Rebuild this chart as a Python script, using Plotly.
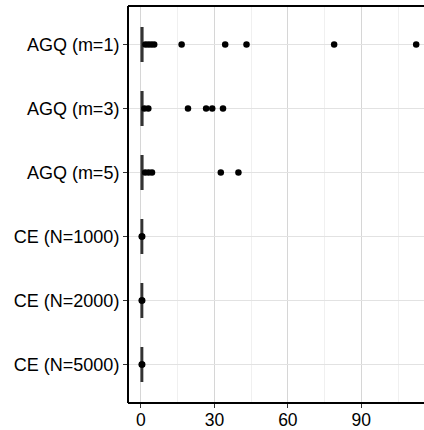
import plotly.graph_objects as go

categories = ["AGQ (m=1)", "AGQ (m=3)", "AGQ (m=5)", "CE (N=1000)", "CE (N=2000)", "CE (N=5000)"]
q1 = [0.05, 0.05, 0.05, 0.05, 0.05, 0.05]
median = [0.3, 0.3, 0.3, 0.3, 0.3, 0.3]
q3 = [0.8, 0.8, 0.8, 0.7, 0.7, 0.7]
lowerfence = [0.0, 0.0, 0.0, 0.0, 0.0, 0.0]
upperfence = [1.2, 1.0, 1.2, 0.8, 0.8, 0.8]

outlier_cat = (["AGQ (m=1)"] * 9 + ["AGQ (m=3)"] * 6 + ["AGQ (m=5)"] * 5
               + ["CE (N=1000)"] * 2 + ["CE (N=2000)"] * 2 + ["CE (N=5000)"] * 2)
outlier_val = ([1.8, 3.0, 4.2, 5.4, 16.6, 34.4, 43.1, 78.9, 112.4]
               + [1.4, 3.0, 19.2, 26.6, 29.1, 33.5]
               + [1.7, 3.1, 4.5, 32.6, 39.8]
               + [0.3, 0.5] + [0.3, 0.5] + [0.3, 0.5])

x_ticks = [0, 30, 60, 90]

fig = go.Figure()
fig.add_trace(go.Box(
    y=categories, q1=q1, median=median, q3=q3,
    lowerfence=lowerfence, upperfence=upperfence,
    orientation="h", boxpoints=False,
    fillcolor="white", line=dict(color="#333333", width=1.3),
    whiskerwidth=0, showlegend=False,
))
fig.add_trace(go.Scatter(
    x=outlier_val, y=outlier_cat, mode="markers",
    marker=dict(color="black", size=6.5), showlegend=False,
))

x0, x1 = -5.3, 115.6
fig.update_layout(
    width=424, height=430,
    margin=dict(l=128, r=0, t=6, b=27),
    plot_bgcolor="white", paper_bgcolor="white",
    boxgap=0.25,
    font=dict(family="Liberation Sans, Arial, sans-serif", size=18, color="black"),
    xaxis=dict(
        range=[x0, x1], tickvals=x_ticks, ticktext=[str(v) for v in x_ticks],
        showgrid=True, gridcolor="#d6d6d6", gridwidth=1,
        minor=dict(tickvals=[15, 45, 75, 105], showgrid=True, gridcolor="#f0f0f0", gridwidth=1),
        zeroline=False, showline=False, automargin=False,
        ticks="outside", ticklen=4, tickcolor="#333333", tickwidth=1,
        ticklabelstandoff=-3,
        tickfont=dict(size=17.5, color="black"),
    ),
    yaxis=dict(
        categoryorder="array", categoryarray=categories,
        range=[5.6, -0.6], automargin=False,
        showgrid=True, gridcolor="#e2e2e2", gridwidth=1,
        zeroline=False, showline=False,
        ticks="outside", ticklen=4, tickcolor="#333333", tickwidth=1,
        tickfont=dict(size=18, color="black"),
    ),
    shapes=[
        dict(type="line", xref="paper", yref="paper", x0=0, x1=1, y0=1, y1=1,
             line=dict(color="black", width=2)),
        dict(type="line", xref="paper", yref="paper", x0=0, x1=1, y0=0, y1=0,
             line=dict(color="black", width=2)),
        dict(type="line", xref="paper", yref="paper", x0=0, x1=0, y0=0, y1=1,
             line=dict(color="black", width=2)),
    ],
)
fig.write_html("out.html")
